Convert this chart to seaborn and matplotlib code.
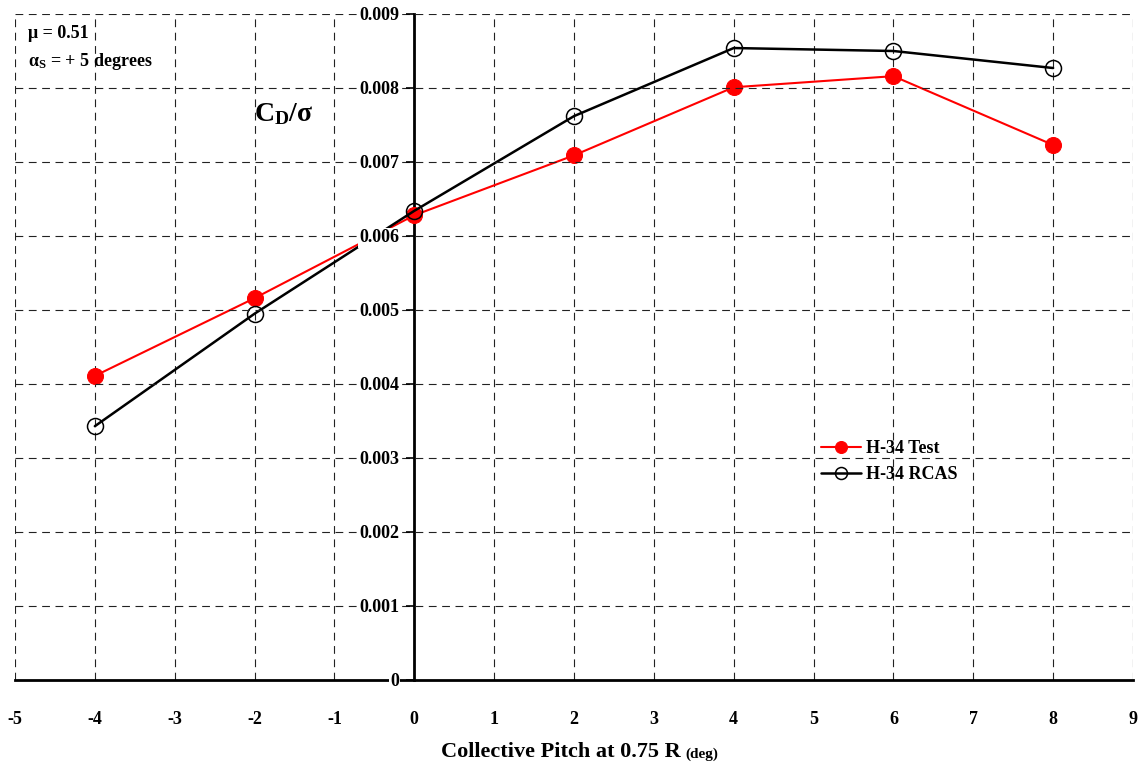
import numpy as np
import pandas as pd
import matplotlib
matplotlib.use("Agg")
import matplotlib.pyplot as plt
import seaborn as sns
from matplotlib.ticker import FuncFormatter

# data
pitch = [-4, -2, 0, 2, 4, 6, 8]
cd_test = [0.00411, 0.00516, 0.00628, 0.00709, 0.00801, 0.00816, 0.00723]
cd_rcas = [0.00343, 0.00495, 0.00634, 0.00762, 0.00854, 0.00850, 0.00827]
x_ticks = list(range(-5, 10))
y_ticks = [i / 1000 for i in range(0, 10)]

df = pd.DataFrame({
    "pitch": pitch * 2,
    "cd": cd_test + cd_rcas,
    "series": ["H-34 Test"] * len(pitch) + ["H-34 RCAS"] * len(pitch),
})

sns.set_theme(style="white")
plt.rcParams["font.family"] = ["Liberation Serif", "DejaVu Serif"]
plt.rcParams["font.weight"] = "bold"
plt.rcParams["text.color"] = "black"
plt.rcParams["xtick.color"] = "black"
plt.rcParams["ytick.color"] = "black"
plt.rcParams["axes.unicode_minus"] = False
plt.rcParams["mathtext.fontset"] = "custom"
plt.rcParams["mathtext.rm"] = "Liberation Serif:bold"
plt.rcParams["mathtext.it"] = "Liberation Serif:bold"
plt.rcParams["mathtext.bf"] = "Liberation Serif:bold"

fig = plt.figure(figsize=(11.43, 7.70), dpi=100)
ax = fig.add_axes([15 / 1143, 90 / 770, 1118 / 1143, 666 / 770])

sns.lineplot(data=df[df.series == "H-34 Test"], x="pitch", y="cd", ax=ax,
             color="red", linewidth=1.5, marker="o", markersize=11.5,
             markeredgecolor="red", markerfacecolor="red",
             label="H-34 Test", zorder=3)
sns.lineplot(data=df[df.series == "H-34 RCAS"], x="pitch", y="cd", ax=ax,
             color="black", linewidth=1.8, marker="o", markersize=11.5,
             markeredgecolor="black", markerfacecolor="none",
             markeredgewidth=1.1, label="H-34 RCAS", zorder=3)

ax.set_xlim(-5, 9)
ax.set_ylim(0, 0.009)
ax.set_xticks(x_ticks)
ax.set_yticks(y_ticks)
ax.yaxis.set_major_formatter(FuncFormatter(lambda v, p: "0" if v == 0 else f"{v:.3f}"))

ax.grid(True, linestyle=(0, (7, 5)), color="#222222", linewidth=0.8)
for s in ["top", "right"]:
    ax.spines[s].set_visible(False)
ax.spines["left"].set_position(("data", 0))
ax.spines["left"].set_linewidth(2)
ax.spines["bottom"].set_linewidth(2)
ax.spines["left"].set_color("black")
ax.spines["bottom"].set_color("black")
ax.spines["left"].set_zorder(2.4)
ax.spines["bottom"].set_zorder(2.4)

ax.tick_params(axis="x", direction="in", length=5, width=1.5, pad=22,
               labelsize=13, color="black", labelcolor="black")
ax.tick_params(axis="y", direction="out", length=6, width=1.2, pad=5,
               labelsize=13, color="black", labelcolor="black", left=True)
for lab in ax.get_xticklabels() + ax.get_yticklabels():
    lab.set_fontweight("bold")
for lab in ax.get_yticklabels():
    lab.set_bbox(dict(facecolor="white", edgecolor="none", pad=1))
ax.yaxis.set_zorder(4)

ax.set_xlabel("")
ax.set_ylabel("")

leg = ax.legend(loc="upper left", bbox_to_anchor=(805 / 1143, 1 - 424 / 770),
                bbox_transform=fig.transFigure, frameon=False,
                prop={"family": "Liberation Serif", "weight": "bold", "size": 13},
                handlelength=2.2, handletextpad=0.3, labelspacing=0.5,
                markerscale=0.75)
for t in leg.get_texts():
    t.set_color("black")

fig.text(28 / 1143, 1 - 33 / 770, "μ = 0.51", fontsize=13, fontweight="bold", va="center")
fig.text(28 / 1143, 1 - 62 / 770, r"α$_\mathrm{S}$ = + 5 degrees", fontsize=13,
         fontweight="bold", va="center")
fig.text(254 / 1143, 1 - 114 / 770, r"C$_\mathrm{D}$/σ", fontsize=20,
         fontweight="bold", va="center")

fig.text(681 / 1143, 1 - 752 / 770, "Collective Pitch at 0.75 R", fontsize=16,
         fontweight="bold", ha="right", va="center")
fig.text(685 / 1143, 1 - 754 / 770, "(deg)", fontsize=11,
         fontweight="bold", ha="left", va="center")

fig.savefig("out.png", dpi=100)
